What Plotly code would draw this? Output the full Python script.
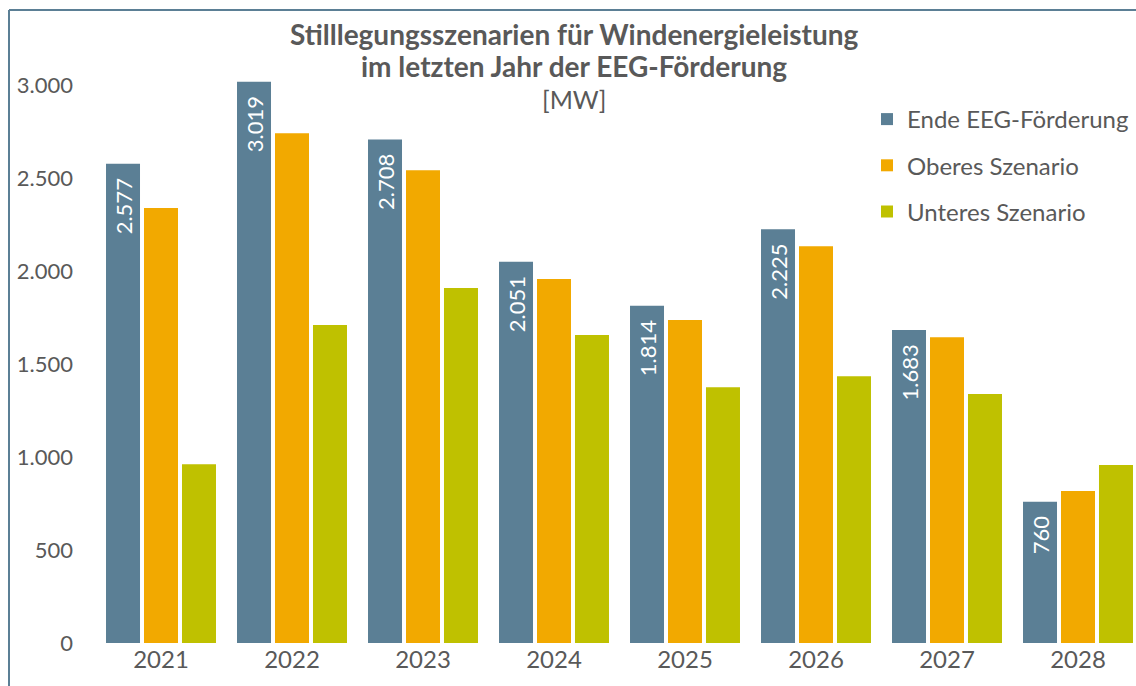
import plotly.graph_objects as go

years = ["2021", "2022", "2023", "2024", "2025", "2026", "2027", "2028"]
ende = [2577, 3019, 2708, 2051, 1814, 2225, 1683, 760]
oberes = [2339, 2742, 2543, 1957, 1737, 2134, 1645, 817]
unteres = [962, 1710, 1909, 1656, 1376, 1435, 1339, 957]

names = ["Ende EEG-Förderung", "Oberes Szenario", "Unteres Szenario"]
colors = ["#5B7F95", "#F2A900", "#BFC100"]

FONT = "Lato"
GRAY = "#595959"

fig = go.Figure()
fig.add_trace(go.Bar(
    x=years, y=ende, name=names[0], legendgroup="a",
    marker=dict(color=colors[0], line=dict(width=0)),
    texttemplate="%{y:,}&nbsp;&nbsp;", textposition="inside", insidetextanchor="end",
    textangle=-90, textfont=dict(color="white", size=22, family=FONT),
))
fig.add_trace(go.Bar(x=years, y=oberes, name=names[1], legendgroup="b",
                     marker=dict(color=colors[1], line=dict(width=0))))
fig.add_trace(go.Bar(x=years, y=unteres, name=names[2], legendgroup="c",
                     marker=dict(color=colors[2], line=dict(width=0))))

W, H = 1136, 686
L, R, T, B = 96, 0, 48, 43
pw, ph = W - L - R, H - T - B
PITCH = 131.0

def px(x):
    return (x - L) / pw

def py(y):
    return (H - B - y) / ph

x_lo = -0.5 - (161 - PITCH / 2 - L) / PITCH
x_hi = x_lo + pw / PITCH

fig.update_layout(
    width=W, height=H,
    margin=dict(l=L, r=R, t=T, b=B, autoexpand=False),
    plot_bgcolor="white", paper_bgcolor="white",
    separators=",.",
    barmode="group", bargap=0.13, bargroupgap=0.105,
    font=dict(family=FONT, color=GRAY, size=18),
    showlegend=True,
    legend=dict(
        x=px(867), y=py(97), xanchor="left", yanchor="top",
        font=dict(size=24, color=GRAY, family=FONT),
        itemwidth=30, traceorder="grouped", tracegroupgap=12, bgcolor="rgba(0,0,0,0)",
    ),
    xaxis=dict(
        range=[x_lo, x_hi], automargin=False,
        showline=False, showgrid=False, ticks="",
        tickfont=dict(size=24, color=GRAY, family=FONT),
    ),
    yaxis=dict(
        range=[0, 3200], tickvals=[0, 500, 1000, 1500, 2000, 2500, 3000],
        ticktext=["0", "500", "1.000", "1.500", "2.000", "2.500", "3.000"],
        showgrid=False, showline=False, zeroline=False, ticks="", automargin=False,
        ticklabelstandoff=22,
        tickfont=dict(size=22, color=GRAY, family=FONT),
    ),
    shapes=[
        dict(type="line", xref="paper", yref="paper", x0=px(9), x1=px(9), y0=py(10), y1=py(700),
             line=dict(color="#5B7F95", width=2)),
        dict(type="line", xref="paper", yref="paper", x0=px(9), x1=px(1140), y0=py(10), y1=py(10),
             line=dict(color="#5B7F95", width=2)),
    ],
    annotations=[
        dict(text="<b>Stilllegungsszenarien für Windenergieleistung</b>", xref="paper", yref="paper",
             x=px(574), y=py(34), xanchor="center", yanchor="middle", showarrow=False,
             font=dict(size=28, color=GRAY, family=FONT)),
        dict(text="<b>im letzten Jahr der EEG-Förderung</b>", xref="paper", yref="paper",
             x=px(574), y=py(66), xanchor="center", yanchor="middle", showarrow=False,
             font=dict(size=28, color=GRAY, family=FONT)),
        dict(text="[MW]", xref="paper", yref="paper",
             x=px(574), y=py(99), xanchor="center", yanchor="middle", showarrow=False,
             font=dict(size=25, color=GRAY, family=FONT)),
    ],
)

fig.write_html("out.html", config={"displayModeBar": False},
               post_script="document.body.style.margin='0';document.body.style.overflow='hidden';")
